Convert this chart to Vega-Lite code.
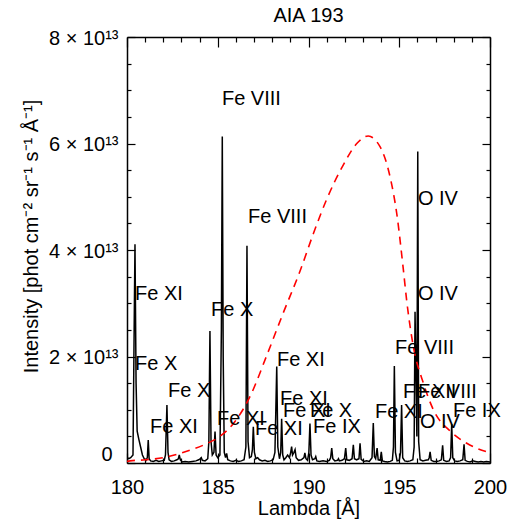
{
  "$schema": "https://vega.github.io/schema/vega-lite/v6.json",
  "width": 363,
  "height": 426,
  "autosize": {"type": "none"},
  "padding": {"left": 127, "top": 37, "right": 20, "bottom": 57},
  "background": "white",
  "title": {"text": "AIA 193", "fontSize": 20, "font": "Liberation Sans", "fontWeight": "normal", "anchor": "middle", "offset": 2, "color": "black"},
  "config": {
    "view": {"stroke": null},
    "axis": {"domainColor": "black", "tickColor": "black", "labelColor": "black", "titleColor": "black", "labelFont": "Liberation Sans", "titleFont": "Liberation Sans", "grid": false, "domainWidth": 1.5, "tickWidth": 1.2, "titleFontWeight": "normal"}
  },
  "datasets": {
    "spectrum": [
      {"lambda": 180.0, "intensity": 0.1}, {"lambda": 180.1, "intensity": 0.08}, {"lambda": 180.2, "intensity": 0.1}, {"lambda": 180.33, "intensity": 0.15}, {"lambda": 180.38, "intensity": 2.0}, {"lambda": 180.44, "intensity": 4.11}, {"lambda": 180.5, "intensity": 1.5}, {"lambda": 180.56, "intensity": 0.6}, {"lambda": 180.65, "intensity": 0.45}, {"lambda": 180.75, "intensity": 0.3}, {"lambda": 180.85, "intensity": 0.15}, {"lambda": 180.95, "intensity": 0.08}, {"lambda": 181.05, "intensity": 0.05}, {"lambda": 181.12, "intensity": 0.1}, {"lambda": 181.17, "intensity": 0.43}, {"lambda": 181.22, "intensity": 0.08}, {"lambda": 181.3, "intensity": 0.04}, {"lambda": 181.45, "intensity": 0.03}, {"lambda": 181.6, "intensity": 0.05}, {"lambda": 181.75, "intensity": 0.03}, {"lambda": 181.9, "intensity": 0.04}, {"lambda": 182.05, "intensity": 0.05}, {"lambda": 182.12, "intensity": 0.15}, {"lambda": 182.2, "intensity": 1.09}, {"lambda": 182.26, "intensity": 0.2}, {"lambda": 182.32, "intensity": 0.06}, {"lambda": 182.45, "intensity": 0.03}, {"lambda": 182.6, "intensity": 0.04}, {"lambda": 182.75, "intensity": 0.06}, {"lambda": 182.83, "intensity": 0.08}, {"lambda": 182.88, "intensity": 0.15}, {"lambda": 182.94, "intensity": 0.06}, {"lambda": 183.05, "intensity": 0.02}, {"lambda": 183.2, "intensity": 0.03}, {"lambda": 183.4, "intensity": 0.02}, {"lambda": 183.6, "intensity": 0.03}, {"lambda": 183.8, "intensity": 0.04}, {"lambda": 183.95, "intensity": 0.06}, {"lambda": 184.03, "intensity": 0.08}, {"lambda": 184.09, "intensity": 0.1}, {"lambda": 184.15, "intensity": 0.05}, {"lambda": 184.3, "intensity": 0.04}, {"lambda": 184.45, "intensity": 0.08}, {"lambda": 184.51, "intensity": 0.4}, {"lambda": 184.57, "intensity": 2.48}, {"lambda": 184.63, "intensity": 0.4}, {"lambda": 184.7, "intensity": 0.15}, {"lambda": 184.79, "intensity": 0.2}, {"lambda": 184.85, "intensity": 0.59}, {"lambda": 184.91, "intensity": 0.15}, {"lambda": 185.0, "intensity": 0.1}, {"lambda": 185.12, "intensity": 0.15}, {"lambda": 185.2, "intensity": 2.5}, {"lambda": 185.25, "intensity": 6.13}, {"lambda": 185.3, "intensity": 2.0}, {"lambda": 185.36, "intensity": 0.2}, {"lambda": 185.43, "intensity": 0.1}, {"lambda": 185.49, "intensity": 0.18}, {"lambda": 185.55, "intensity": 0.06}, {"lambda": 185.7, "intensity": 0.04}, {"lambda": 185.85, "intensity": 0.03}, {"lambda": 186.0, "intensity": 0.05}, {"lambda": 186.15, "intensity": 0.03}, {"lambda": 186.3, "intensity": 0.04}, {"lambda": 186.45, "intensity": 0.06}, {"lambda": 186.55, "intensity": 0.3}, {"lambda": 186.61, "intensity": 4.08}, {"lambda": 186.67, "intensity": 0.4}, {"lambda": 186.75, "intensity": 0.1}, {"lambda": 186.85, "intensity": 0.12}, {"lambda": 186.91, "intensity": 0.25}, {"lambda": 186.96, "intensity": 0.68}, {"lambda": 187.02, "intensity": 0.2}, {"lambda": 187.1, "intensity": 0.08}, {"lambda": 187.2, "intensity": 0.1}, {"lambda": 187.3, "intensity": 0.06}, {"lambda": 187.45, "intensity": 0.04}, {"lambda": 187.6, "intensity": 0.05}, {"lambda": 187.75, "intensity": 0.03}, {"lambda": 187.9, "intensity": 0.04}, {"lambda": 188.05, "intensity": 0.06}, {"lambda": 188.15, "intensity": 0.2}, {"lambda": 188.2, "intensity": 1.0}, {"lambda": 188.25, "intensity": 1.81}, {"lambda": 188.31, "intensity": 0.3}, {"lambda": 188.4, "intensity": 0.08}, {"lambda": 188.47, "intensity": 0.2}, {"lambda": 188.52, "intensity": 0.83}, {"lambda": 188.58, "intensity": 0.15}, {"lambda": 188.65, "intensity": 0.06}, {"lambda": 188.75, "intensity": 0.1}, {"lambda": 188.85, "intensity": 0.15}, {"lambda": 188.95, "intensity": 0.1}, {"lambda": 189.02, "intensity": 0.2}, {"lambda": 189.07, "intensity": 0.31}, {"lambda": 189.12, "intensity": 0.15}, {"lambda": 189.2, "intensity": 0.2}, {"lambda": 189.26, "intensity": 0.25}, {"lambda": 189.32, "intensity": 0.1}, {"lambda": 189.45, "intensity": 0.05}, {"lambda": 189.6, "intensity": 0.06}, {"lambda": 189.75, "intensity": 0.1}, {"lambda": 189.8, "intensity": 0.19}, {"lambda": 189.86, "intensity": 0.08}, {"lambda": 189.95, "intensity": 0.05}, {"lambda": 190.02, "intensity": 0.2}, {"lambda": 190.08, "intensity": 0.74}, {"lambda": 190.14, "intensity": 0.15}, {"lambda": 190.22, "intensity": 0.06}, {"lambda": 190.35, "intensity": 0.08}, {"lambda": 190.4, "intensity": 0.12}, {"lambda": 190.46, "intensity": 0.04}, {"lambda": 190.6, "intensity": 0.03}, {"lambda": 190.8, "intensity": 0.04}, {"lambda": 191.0, "intensity": 0.03}, {"lambda": 191.15, "intensity": 0.05}, {"lambda": 191.22, "intensity": 0.1}, {"lambda": 191.28, "intensity": 0.28}, {"lambda": 191.34, "intensity": 0.08}, {"lambda": 191.45, "intensity": 0.04}, {"lambda": 191.6, "intensity": 0.05}, {"lambda": 191.65, "intensity": 0.08}, {"lambda": 191.7, "intensity": 0.04}, {"lambda": 191.85, "intensity": 0.05}, {"lambda": 191.98, "intensity": 0.08}, {"lambda": 192.05, "intensity": 0.28}, {"lambda": 192.11, "intensity": 0.06}, {"lambda": 192.25, "intensity": 0.05}, {"lambda": 192.4, "intensity": 0.08}, {"lambda": 192.47, "intensity": 0.34}, {"lambda": 192.53, "intensity": 0.08}, {"lambda": 192.65, "intensity": 0.06}, {"lambda": 192.78, "intensity": 0.08}, {"lambda": 192.84, "intensity": 0.37}, {"lambda": 192.9, "intensity": 0.07}, {"lambda": 193.05, "intensity": 0.03}, {"lambda": 193.2, "intensity": 0.04}, {"lambda": 193.35, "intensity": 0.03}, {"lambda": 193.5, "intensity": 0.1}, {"lambda": 193.57, "intensity": 0.75}, {"lambda": 193.63, "intensity": 0.12}, {"lambda": 193.7, "intensity": 0.08}, {"lambda": 193.78, "intensity": 0.28}, {"lambda": 193.84, "intensity": 0.06}, {"lambda": 193.95, "intensity": 0.05}, {"lambda": 194.01, "intensity": 0.21}, {"lambda": 194.07, "intensity": 0.04}, {"lambda": 194.2, "intensity": 0.03}, {"lambda": 194.35, "intensity": 0.02}, {"lambda": 194.5, "intensity": 0.03}, {"lambda": 194.62, "intensity": 0.05}, {"lambda": 194.68, "intensity": 0.3}, {"lambda": 194.73, "intensity": 1.82}, {"lambda": 194.79, "intensity": 0.2}, {"lambda": 194.88, "intensity": 0.04}, {"lambda": 195.0, "intensity": 0.05}, {"lambda": 195.07, "intensity": 0.2}, {"lambda": 195.13, "intensity": 1.09}, {"lambda": 195.19, "intensity": 0.1}, {"lambda": 195.3, "intensity": 0.04}, {"lambda": 195.45, "intensity": 0.03}, {"lambda": 195.6, "intensity": 0.04}, {"lambda": 195.75, "intensity": 0.06}, {"lambda": 195.82, "intensity": 0.3}, {"lambda": 195.87, "intensity": 2.84}, {"lambda": 195.93, "intensity": 1.5}, {"lambda": 195.97, "intensity": 0.5}, {"lambda": 196.02, "intensity": 5.85}, {"lambda": 196.07, "intensity": 0.4}, {"lambda": 196.15, "intensity": 0.06}, {"lambda": 196.3, "intensity": 0.04}, {"lambda": 196.45, "intensity": 0.05}, {"lambda": 196.6, "intensity": 0.06}, {"lambda": 196.65, "intensity": 0.1}, {"lambda": 196.7, "intensity": 0.21}, {"lambda": 196.76, "intensity": 0.05}, {"lambda": 196.9, "intensity": 0.03}, {"lambda": 197.05, "intensity": 0.03}, {"lambda": 197.2, "intensity": 0.04}, {"lambda": 197.32, "intensity": 0.06}, {"lambda": 197.39, "intensity": 0.33}, {"lambda": 197.45, "intensity": 0.05}, {"lambda": 197.6, "intensity": 0.03}, {"lambda": 197.75, "intensity": 0.04}, {"lambda": 197.83, "intensity": 0.1}, {"lambda": 197.89, "intensity": 0.73}, {"lambda": 197.95, "intensity": 0.1}, {"lambda": 198.05, "intensity": 0.04}, {"lambda": 198.2, "intensity": 0.03}, {"lambda": 198.35, "intensity": 0.04}, {"lambda": 198.5, "intensity": 0.06}, {"lambda": 198.57, "intensity": 0.35}, {"lambda": 198.63, "intensity": 0.05}, {"lambda": 198.75, "intensity": 0.03}, {"lambda": 198.9, "intensity": 0.02}, {"lambda": 199.05, "intensity": 0.04}, {"lambda": 199.2, "intensity": 0.03}, {"lambda": 199.35, "intensity": 0.02}, {"lambda": 199.5, "intensity": 0.03}, {"lambda": 199.65, "intensity": 0.02}, {"lambda": 199.8, "intensity": 0.03}, {"lambda": 200.0, "intensity": 0.02}
    ],
    "response": [
      {"lambda": 180.0, "intensity": 0.03}, {"lambda": 180.17, "intensity": 0.04}, {"lambda": 181.0, "intensity": 0.06}, {"lambda": 182.0, "intensity": 0.1}, {"lambda": 183.29, "intensity": 0.22}, {"lambda": 184.3, "intensity": 0.35}, {"lambda": 185.12, "intensity": 0.5}, {"lambda": 185.95, "intensity": 0.78}, {"lambda": 186.78, "intensity": 1.25}, {"lambda": 187.7, "intensity": 2.02}, {"lambda": 188.61, "intensity": 2.82}, {"lambda": 189.53, "intensity": 3.6}, {"lambda": 190.26, "intensity": 4.3}, {"lambda": 191.0, "intensity": 4.95}, {"lambda": 191.92, "intensity": 5.6}, {"lambda": 192.66, "intensity": 6.0}, {"lambda": 193.29, "intensity": 6.14}, {"lambda": 193.94, "intensity": 5.94}, {"lambda": 194.49, "intensity": 5.38}, {"lambda": 194.86, "intensity": 4.69}, {"lambda": 195.22, "intensity": 3.65}, {"lambda": 195.41, "intensity": 3.05}, {"lambda": 195.77, "intensity": 2.2}, {"lambda": 196.33, "intensity": 1.5}, {"lambda": 196.88, "intensity": 1.0}, {"lambda": 197.8, "intensity": 0.6}, {"lambda": 198.72, "intensity": 0.37}, {"lambda": 200.0, "intensity": 0.19}
    ],
    "labelsA": [
      {"lambda": 185.23, "intensity": 6.72, "ion": "Fe VIII"},
      {"lambda": 186.67, "intensity": 4.51, "ion": "Fe VIII"},
      {"lambda": 196.03, "intensity": 4.85, "ion": "O IV"},
      {"lambda": 180.44, "intensity": 3.06, "ion": "Fe XI"},
      {"lambda": 196.03, "intensity": 3.06, "ion": "O IV"},
      {"lambda": 184.63, "intensity": 2.76, "ion": "Fe X"},
      {"lambda": 180.44, "intensity": 1.75, "ion": "Fe X"},
      {"lambda": 188.26, "intensity": 1.82, "ion": "Fe XI"},
      {"lambda": 194.77, "intensity": 2.05, "ion": "Fe VIII"},
      {"lambda": 182.26, "intensity": 1.24, "ion": "Fe X"},
      {"lambda": 195.21, "intensity": 1.22, "ion": "Fe XII"}
    ],
    "labelsB": [
      {"lambda": 196.03, "intensity": 1.22, "ion": "Fe VIII"},
      {"lambda": 188.43, "intensity": 1.09, "ion": "Fe XI"},
      {"lambda": 188.6, "intensity": 0.86, "ion": "Fe XI"},
      {"lambda": 190.08, "intensity": 0.86, "ion": "Fe X"},
      {"lambda": 184.96, "intensity": 0.71, "ion": "Fe XI"},
      {"lambda": 181.27, "intensity": 0.56, "ion": "Fe XI"},
      {"lambda": 187.05, "intensity": 0.53, "ion": "Fe XI"},
      {"lambda": 190.25, "intensity": 0.56, "ion": "Fe IX"},
      {"lambda": 193.66, "intensity": 0.85, "ion": "Fe XI"},
      {"lambda": 196.14, "intensity": 0.66, "ion": "O IV"},
      {"lambda": 197.96, "intensity": 0.86, "ion": "Fe IX"}
    ]
  },
  "layer": [
    {
      "data": {"name": "spectrum"},
      "mark": {"type": "line", "color": "black", "strokeWidth": 1.5, "clip": true},
      "encoding": {
        "x": {"field": "lambda", "type": "quantitative", "scale": {"domain": [180, 200], "nice": false, "zero": false},
          "axis": {"orient": "bottom", "values": [180, 185, 190, 195, 200], "tickSize": -10, "labelPadding": 24, "labelFontSize": 20, "labelFlush": false,
            "title": "Lambda [Å]", "titleFontSize": 20, "titleBaseline": "alphabetic", "titleY": 51}},
        "y": {"field": "intensity", "type": "quantitative", "scale": {"domain": [0, 8], "nice": false},
          "axis": {"orient": "left", "values": [0, 2, 4, 6, 8], "tickSize": -8, "labelFontSize": 20, "labelFlush": false, "labelBaseline": "middle",
            "labelPadding": {"condition": {"test": "datum.value == 0", "value": 23}, "value": 17},
            "labelOffset": {"condition": {"test": "datum.value == 0", "value": -9}, "value": 1},
            "labelExpr": "datum.value == 0 ? '0' : datum.value + ' × 10¹³'",
            "title": "Intensity [phot cm⁻² sr⁻¹ s⁻¹ Å⁻¹]", "titleFontSize": 20, "titleAngle": 270, "titleBaseline": "alphabetic", "titleAlign": "center", "titleX": -90, "titleY": 199}}
      }
    },
    {
      "data": {"name": "response"},
      "mark": {"type": "line", "color": "#ff0000", "strokeWidth": 1.6, "strokeDash": [8, 6], "interpolate": "monotone", "clip": true},
      "encoding": {
        "x": {"field": "lambda", "type": "quantitative", "axis": {"orient": "top", "values": [180, 185, 190, 195, 200], "tickSize": -10, "labels": false, "title": null}},
        "y": {"field": "intensity", "type": "quantitative", "axis": {"orient": "right", "values": [0, 2, 4, 6, 8], "tickSize": -8, "labels": false, "title": null}}
      }
    },
    {
      "data": {"name": "labelsA"},
      "mark": {"type": "text", "align": "left", "baseline": "alphabetic", "font": "Liberation Sans", "fontSize": 20, "color": "black"},
      "encoding": {
        "x": {"field": "lambda", "type": "quantitative", "axis": {"orient": "bottom", "values": [181, 182, 183, 184, 186, 187, 188, 189, 191, 192, 193, 194, 196, 197, 198, 199], "tickSize": -5, "labels": false, "domain": false, "title": null}},
        "y": {"field": "intensity", "type": "quantitative", "axis": {"orient": "left", "values": [0.5, 1, 1.5, 2.5, 3, 3.5, 4.5, 5, 5.5, 6.5, 7, 7.5], "tickSize": -4, "labels": false, "domain": false, "title": null}},
        "text": {"field": "ion"}
      }
    },
    {
      "data": {"name": "labelsB"},
      "mark": {"type": "text", "align": "left", "baseline": "alphabetic", "font": "Liberation Sans", "fontSize": 20, "color": "black"},
      "encoding": {
        "x": {"field": "lambda", "type": "quantitative", "axis": {"orient": "top", "values": [181, 182, 183, 184, 186, 187, 188, 189, 191, 192, 193, 194, 196, 197, 198, 199], "tickSize": -5, "labels": false, "domain": false, "title": null}},
        "y": {"field": "intensity", "type": "quantitative", "axis": {"orient": "right", "values": [0.5, 1, 1.5, 2.5, 3, 3.5, 4.5, 5, 5.5, 6.5, 7, 7.5], "tickSize": -4, "labels": false, "domain": false, "title": null}},
        "text": {"field": "ion"}
      }
    }
  ],
  "resolve": {"axis": {"x": "independent", "y": "independent"}}
}
